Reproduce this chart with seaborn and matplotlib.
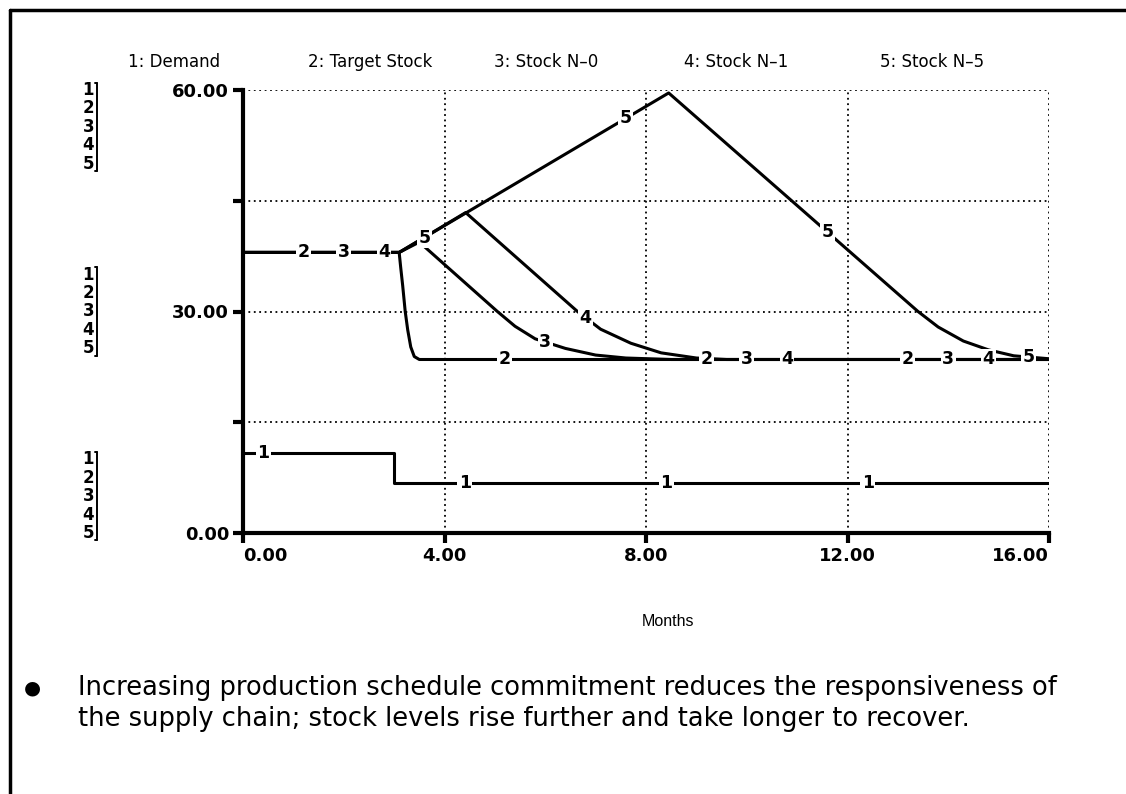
import numpy as np
import matplotlib
matplotlib.use("Agg")
import matplotlib.pyplot as plt
import matplotlib.transforms as mtransforms
from matplotlib.lines import Line2D
import seaborn as sns

# series (months, value)
demand_t = [0, 3.0, 3.0, 16]
demand = [10.8, 10.8, 6.8, 6.8]
target_t = [0, 3.1, 3.13, 3.17, 3.22, 3.27, 3.33, 3.4, 3.5, 16]
target = [38, 38, 36, 33.5, 30, 27.5, 25.2, 23.9, 23.5, 23.5]
n0_t = [0, 3.1, 3.5, 5.05, 5.4, 5.8, 6.4, 7.0, 7.6, 8.5, 16]
n0 = [38, 38, 39.4, 30, 28, 26.3, 25, 24.1, 23.7, 23.5, 23.5]
n1_t = [0, 3.1, 4.42, 6.64, 7.1, 7.7, 8.3, 9.0, 9.6, 16]
n1 = [38, 38, 43.4, 30, 27.6, 25.7, 24.4, 23.7, 23.5, 23.5]
n5_t = [0, 3.1, 8.45, 13.4, 13.8, 14.3, 14.8, 15.3, 16]
n5 = [38, 38, 59.6, 30, 27.9, 26.0, 24.8, 24.0, 23.6]

names = ["1: Demand", "2: Target Stock", "3: Stock N\u20130", "4: Stock N\u20131", "5: Stock N\u20135"]
name_x = [128, 308, 494, 684, 880]  # px positions of the header row
x_ticks = [0, 4, 8, 12, 16]
x_labels = ["0.00", "4.00", "8.00", "12.00", "16.00"]
y_ticks = [0, 15, 30, 45, 60]
y_labels = ["0.00", "", "30.00", "", "60.00"]
note = ["Increasing production schedule commitment reduces the responsiveness of",
        "the supply chain; stock levels rise further and take longer to recover."]

series = [(demand_t, demand), (target_t, target), (n0_t, n0), (n1_t, n1), (n5_t, n5)]

sns.set_theme(style="white")
plt.rcParams["font.family"] = ["DejaVu Sans"]
plt.rcParams["text.color"] = "black"
plt.rcParams["xtick.color"] = "black"
plt.rcParams["ytick.color"] = "black"

W, H = 1126, 794
fig = plt.figure(figsize=(W / 100, H / 100), dpi=100)
ax = fig.add_axes([243 / W, 1 - 533 / H, (1049 - 243) / W, (533 - 90) / H])

for t, v in series:
    sns.lineplot(x=t, y=v, estimator=None, sort=False, color="black",
                 linewidth=2.2, ax=ax, legend=False)

# Stella style number labels along each curve
for k, (t, v) in enumerate(series):
    for j in range(4):
        tt = 0.4 + 0.8 * k + 4 * j
        ax.text(tt, np.interp(tt, t, v), str(k + 1), ha="center", va="center",
                fontsize=12.5, fontweight="bold", zorder=6,
                bbox=dict(fc="white", ec="none", pad=1.0))

ax.set_xlim(0, 16)
ax.set_ylim(0, 60)
ax.set_xticks(x_ticks, x_labels)
ax.set_yticks(y_ticks, y_labels)
ax.grid(True, color="black", linestyle=(0, (1, 2)), linewidth=1.3)
for s in ["top", "right"]:
    ax.spines[s].set_visible(False)
for s in ["left", "bottom"]:
    ax.spines[s].set_linewidth(3)
    ax.spines[s].set_color("black")
ax.tick_params(axis="both", length=7, width=3, color="black", direction="out",
               labelsize=13, labelcolor="black", pad=3, left=True, bottom=True)
for lab in ax.get_xticklabels() + ax.get_yticklabels():
    lab.set_fontweight("bold")
xl = ax.get_xticklabels()
xl[0].set_horizontalalignment("left")
xl[-1].set_horizontalalignment("right")
ax.set_xlabel("")
ax.set_ylabel("")
fig.text(668 / W, 1 - 621 / H, "Months", fontsize=11.5, ha="center", va="center",
         family="Liberation Sans")

# header row
for n, px in zip(names, name_x):
    fig.text(px / W, 1 - 62 / H, n, fontsize=12, va="center", ha="left")

# stacked scale markers left of the axis
tr = mtransforms.blended_transform_factory(fig.transFigure, ax.transData)
step = 2.5
for top in [60, 35, 10]:
    for i in range(5):
        ax.text(94 / W, top - i * step, str(i + 1), transform=tr, ha="right",
                va="center", fontsize=12, fontweight="bold", clip_on=False)
    ax.add_line(Line2D([97 / W, 97 / W], [top + 1.0, top - 4 * step - 1.0],
                       transform=tr, color="black", lw=1.4, clip_on=False))
    for yy in [top + 1.0, top - 4 * step - 1.0]:
        ax.add_line(Line2D([94.5 / W, 97 / W], [yy, yy], transform=tr,
                           color="black", lw=1.4, clip_on=False))

# slide frame
fig.add_artist(Line2D([10 / W, 1], [1 - 10 / H] * 2, color="black", lw=2.5))
fig.add_artist(Line2D([10 / W, 10 / W], [0, 1 - 10 / H], color="black", lw=2.5))

# bullet note
fig.text(32 / W, 1 - 688 / H, "\u25cf", fontsize=14, ha="center", va="center")
for i, line in enumerate(note):
    fig.text(78 / W, 1 - (688 + 31 * i) / H, line, fontsize=18.5, ha="left",
             va="center")

fig.savefig("out.png", dpi=100)
